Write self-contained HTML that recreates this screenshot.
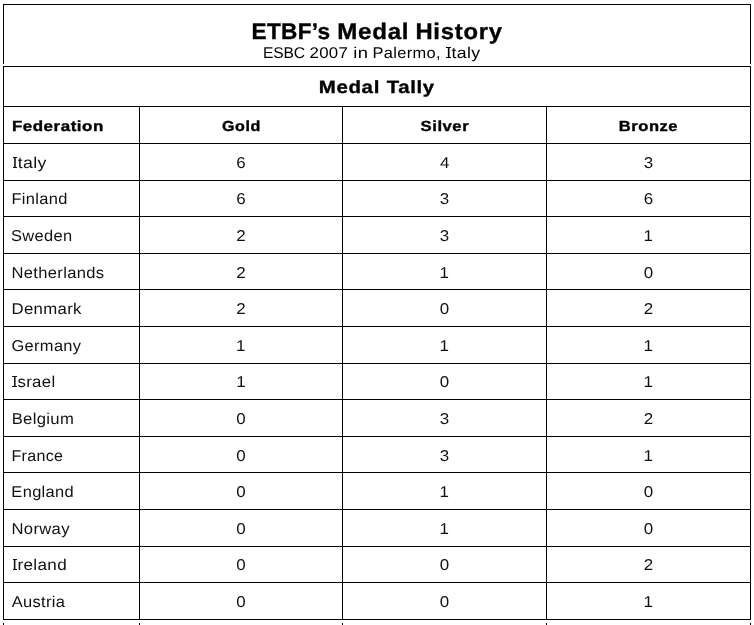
<!DOCTYPE html>
<html><head><meta charset="utf-8"><style>
html,body{margin:0;padding:0;background:#fff;width:754px;height:625px;overflow:hidden;position:relative}
.l{position:absolute;background:#000}
.t{position:absolute;font-family:"Liberation Sans",sans-serif;line-height:1;white-space:pre;transform-origin:0 0;text-rendering:geometricPrecision;will-change:transform}
.b{font-weight:bold;-webkit-text-stroke:0.35px currentColor}
</style></head><body>
<div class="l" style="left:3px;top:4px;width:748px;height:1px"></div>
<div class="l" style="left:3px;top:4px;width:1px;height:60px"></div>
<div class="l" style="left:750px;top:4px;width:1px;height:60px"></div>
<div class="l" style="left:3px;top:66px;width:748px;height:1px"></div>
<div class="l" style="left:3px;top:106px;width:748px;height:1px"></div>
<div class="l" style="left:3px;top:143px;width:748px;height:1px"></div>
<div class="l" style="left:3px;top:180px;width:748px;height:1px"></div>
<div class="l" style="left:3px;top:216px;width:748px;height:1px"></div>
<div class="l" style="left:3px;top:253px;width:748px;height:1px"></div>
<div class="l" style="left:3px;top:289px;width:748px;height:1px"></div>
<div class="l" style="left:3px;top:326px;width:748px;height:1px"></div>
<div class="l" style="left:3px;top:363px;width:748px;height:1px"></div>
<div class="l" style="left:3px;top:399px;width:748px;height:1px"></div>
<div class="l" style="left:3px;top:436px;width:748px;height:1px"></div>
<div class="l" style="left:3px;top:472px;width:748px;height:1px"></div>
<div class="l" style="left:3px;top:509px;width:748px;height:1px"></div>
<div class="l" style="left:3px;top:546px;width:748px;height:1px"></div>
<div class="l" style="left:3px;top:582px;width:748px;height:1px"></div>
<div class="l" style="left:3px;top:619px;width:748px;height:1px"></div>
<div class="l" style="left:3px;top:66px;width:1px;height:554px"></div>
<div class="l" style="left:750px;top:66px;width:1px;height:554px"></div>
<div class="l" style="left:139px;top:106px;width:1px;height:514px"></div>
<div class="l" style="left:342px;top:106px;width:1px;height:514px"></div>
<div class="l" style="left:546px;top:106px;width:1px;height:514px"></div>
<div class="l" style="left:3px;top:623px;width:1px;height:3px"></div>
<div class="l" style="left:139px;top:623px;width:1px;height:3px"></div>
<div class="l" style="left:342px;top:623px;width:1px;height:3px"></div>
<div class="l" style="left:546px;top:623px;width:1px;height:3px"></div>
<div class="l" style="left:750px;top:623px;width:1px;height:3px"></div>
<div class="l" style="left:446.20px;top:47px;width:4.6px;height:1px;background:#000"></div>
<div class="l" style="left:446.20px;top:57px;width:4.6px;height:1px;background:#000"></div>
<div class="l" style="left:12.56px;top:157px;width:4.6px;height:1px;background:#111"></div>
<div class="l" style="left:12.56px;top:167px;width:4.6px;height:1px;background:#111"></div>
<div class="l" style="left:12.47px;top:376px;width:4.6px;height:1px;background:#111"></div>
<div class="l" style="left:12.47px;top:386px;width:4.6px;height:1px;background:#111"></div>
<div class="l" style="left:12.50px;top:559px;width:4.6px;height:1px;background:#111"></div>
<div class="l" style="left:12.50px;top:569px;width:4.6px;height:1px;background:#111"></div>
<div class="t b" style="left:251px;top:20.615px;font-size:22.499px;transform:translateX(0.534px) scaleX(1.0048);letter-spacing:0.324px;color:#000">ETBF’s</div>
<div class="t b" style="left:337px;top:20.615px;font-size:22.499px;transform:translateX(0.144px) scaleX(1.0726);letter-spacing:0.712px;color:#000">Medal</div>
<div class="t b" style="left:415px;top:20.615px;font-size:22.499px;transform:translateX(0.397px) scaleX(1.0591);letter-spacing:0.712px;color:#000">History</div>
<div class="t" style="left:262px;top:45.691px;font-size:15.585px;transform:translateX(0.943px) scaleX(1.0032);letter-spacing:-0.128px;color:#000">ESBC</div>
<div class="t" style="left:309px;top:45.691px;font-size:15.585px;transform:translateX(0.442px) scaleX(1.0788);letter-spacing:0.316px;color:#000">2007</div>
<div class="t" style="left:353px;top:45.691px;font-size:15.585px;transform:translateX(0.357px) scaleX(1.1814);letter-spacing:0.316px;color:#000">in</div>
<div class="t" style="left:372px;top:45.691px;font-size:15.585px;transform:translateX(0.447px) scaleX(1.0539);letter-spacing:0.316px;color:#000">Palermo,</div>
<div class="t" style="left:446px;top:45.691px;font-size:15.585px;transform:translateX(0.199px) scaleX(1.1339);letter-spacing:0.316px;color:#000">Italy</div>
<div class="t b" style="left:318px;top:78.793px;font-size:17.697px;transform:translateX(0.730px) scaleX(1.1569);letter-spacing:0.564px;color:#000">Medal</div>
<div class="t b" style="left:386px;top:78.793px;font-size:17.697px;transform:translateX(0.715px) scaleX(1.1478);letter-spacing:0.564px;color:#000">Tally</div>
<div class="t b" style="left:11px;top:119.651px;font-size:14.578px;transform:translateX(0.901px) scaleX(1.1628);letter-spacing:0.461px;color:#000">Federation</div>
<div class="t b" style="left:222px;top:119.651px;font-size:14.578px;transform:translateX(0.103px) scaleX(1.1023);letter-spacing:0.461px;color:#000">Gold</div>
<div class="t b" style="left:420px;top:119.651px;font-size:14.578px;transform:translateX(0.534px) scaleX(1.1475);letter-spacing:0.461px;color:#000">Silver</div>
<div class="t b" style="left:618px;top:119.651px;font-size:14.578px;transform:translateX(0.856px) scaleX(1.1361);letter-spacing:0.461px;color:#000">Bronze</div>
<div class="t" style="left:12px;top:155.957px;font-size:15.700px;transform:translateX(0.435px) scaleX(1.1288);letter-spacing:0.314px;color:#111">Italy</div>
<div class="t" style="left:236px;top:155.957px;font-size:15.700px;transform:translateX(0.125px) scaleX(1.0800);letter-spacing:0.322px;color:#111">6</div>
<div class="t" style="left:440px;top:155.957px;font-size:15.700px;transform:translateX(0.049px) scaleX(1.0800);letter-spacing:0.322px;color:#111">4</div>
<div class="t" style="left:643px;top:155.957px;font-size:15.700px;transform:translateX(0.720px) scaleX(1.0800);letter-spacing:0.322px;color:#111">3</div>
<div class="t" style="left:11px;top:191.585px;font-size:15.700px;transform:translateX(0.388px) scaleX(1.0486);letter-spacing:0.314px;color:#111">Finland</div>
<div class="t" style="left:236px;top:191.585px;font-size:15.700px;transform:translateX(0.140px) scaleX(1.0800);letter-spacing:0.316px;color:#111">6</div>
<div class="t" style="left:439px;top:191.585px;font-size:15.700px;transform:translateX(0.734px) scaleX(1.0800);letter-spacing:0.316px;color:#111">3</div>
<div class="t" style="left:643px;top:191.585px;font-size:15.700px;transform:translateX(0.654px) scaleX(1.0800);letter-spacing:0.316px;color:#111">6</div>
<div class="t" style="left:10px;top:228.687px;font-size:15.700px;transform:translateX(0.977px) scaleX(1.0494);letter-spacing:0.314px;color:#111">Sweden</div>
<div class="t" style="left:236px;top:228.687px;font-size:15.700px;transform:translateX(0.312px) scaleX(1.0800);letter-spacing:0.307px;color:#111">2</div>
<div class="t" style="left:439px;top:228.687px;font-size:15.700px;transform:translateX(0.757px) scaleX(1.0800);letter-spacing:0.307px;color:#111">3</div>
<div class="t" style="left:643px;top:228.687px;font-size:15.700px;transform:translateX(0.616px) scaleX(1.0800);letter-spacing:0.307px;color:#111">1</div>
<div class="t" style="left:11px;top:265.747px;font-size:15.700px;transform:translateX(0.497px) scaleX(1.0550);letter-spacing:0.314px;color:#111">Netherlands</div>
<div class="t" style="left:236px;top:265.747px;font-size:15.700px;transform:translateX(0.289px) scaleX(1.0800);letter-spacing:0.316px;color:#111">2</div>
<div class="t" style="left:439px;top:265.747px;font-size:15.700px;transform:translateX(0.593px) scaleX(1.0800);letter-spacing:0.316px;color:#111">1</div>
<div class="t" style="left:643px;top:265.747px;font-size:15.700px;transform:translateX(0.774px) scaleX(1.0800);letter-spacing:0.316px;color:#111">0</div>
<div class="t" style="left:11px;top:301.667px;font-size:15.700px;transform:translateX(0.425px) scaleX(1.0695);letter-spacing:0.314px;color:#111">Denmark</div>
<div class="t" style="left:236px;top:301.667px;font-size:15.700px;transform:translateX(0.282px) scaleX(1.0800);letter-spacing:0.319px;color:#111">2</div>
<div class="t" style="left:439px;top:301.667px;font-size:15.700px;transform:translateX(0.766px) scaleX(1.0800);letter-spacing:0.319px;color:#111">0</div>
<div class="t" style="left:643px;top:301.667px;font-size:15.700px;transform:translateX(0.751px) scaleX(1.0800);letter-spacing:0.319px;color:#111">2</div>
<div class="t" style="left:11px;top:338.784px;font-size:15.700px;transform:translateX(0.455px) scaleX(1.0482);letter-spacing:0.314px;color:#111">Germany</div>
<div class="t" style="left:235px;top:338.784px;font-size:15.700px;transform:translateX(0.974px) scaleX(1.0800);letter-spacing:0.304px;color:#111">1</div>
<div class="t" style="left:439px;top:338.784px;font-size:15.700px;transform:translateX(0.623px) scaleX(1.0800);letter-spacing:0.304px;color:#111">1</div>
<div class="t" style="left:643px;top:338.784px;font-size:15.700px;transform:translateX(0.623px) scaleX(1.0800);letter-spacing:0.304px;color:#111">1</div>
<div class="t" style="left:12px;top:374.737px;font-size:15.700px;transform:translateX(0.512px) scaleX(1.0677);letter-spacing:0.314px;color:#111">Israel</div>
<div class="t" style="left:236px;top:374.737px;font-size:15.700px;transform:translateX(0.155px) scaleX(1.0800);letter-spacing:0.322px;color:#111">1</div>
<div class="t" style="left:439px;top:374.737px;font-size:15.700px;transform:translateX(0.759px) scaleX(1.0800);letter-spacing:0.322px;color:#111">0</div>
<div class="t" style="left:643px;top:374.737px;font-size:15.700px;transform:translateX(0.578px) scaleX(1.0800);letter-spacing:0.322px;color:#111">1</div>
<div class="t" style="left:11px;top:411.747px;font-size:15.700px;transform:translateX(0.653px) scaleX(1.0606);letter-spacing:0.314px;color:#111">Belgium</div>
<div class="t" style="left:236px;top:411.747px;font-size:15.700px;transform:translateX(0.278px) scaleX(1.0800);letter-spacing:0.316px;color:#111">0</div>
<div class="t" style="left:439px;top:411.747px;font-size:15.700px;transform:translateX(0.734px) scaleX(1.0800);letter-spacing:0.316px;color:#111">3</div>
<div class="t" style="left:643px;top:411.747px;font-size:15.700px;transform:translateX(0.758px) scaleX(1.0800);letter-spacing:0.316px;color:#111">2</div>
<div class="t" style="left:11px;top:448.505px;font-size:15.700px;transform:translateX(0.488px) scaleX(1.0232);letter-spacing:0.314px;color:#111">France</div>
<div class="t" style="left:236px;top:448.505px;font-size:15.700px;transform:translateX(0.255px) scaleX(1.0800);letter-spacing:0.325px;color:#111">0</div>
<div class="t" style="left:439px;top:448.505px;font-size:15.700px;transform:translateX(0.712px) scaleX(1.0800);letter-spacing:0.325px;color:#111">3</div>
<div class="t" style="left:643px;top:448.505px;font-size:15.700px;transform:translateX(0.571px) scaleX(1.0800);letter-spacing:0.325px;color:#111">1</div>
<div class="t" style="left:11px;top:484.747px;font-size:15.700px;transform:translateX(0.362px) scaleX(1.0485);letter-spacing:0.314px;color:#111">England</div>
<div class="t" style="left:236px;top:484.747px;font-size:15.700px;transform:translateX(0.278px) scaleX(1.0800);letter-spacing:0.316px;color:#111">0</div>
<div class="t" style="left:439px;top:484.747px;font-size:15.700px;transform:translateX(0.593px) scaleX(1.0800);letter-spacing:0.316px;color:#111">1</div>
<div class="t" style="left:643px;top:484.747px;font-size:15.700px;transform:translateX(0.774px) scaleX(1.0800);letter-spacing:0.316px;color:#111">0</div>
<div class="t" style="left:11px;top:521.667px;font-size:15.700px;transform:translateX(0.475px) scaleX(1.0593);letter-spacing:0.314px;color:#111">Norway</div>
<div class="t" style="left:236px;top:521.667px;font-size:15.700px;transform:translateX(0.255px) scaleX(1.0800);letter-spacing:0.325px;color:#111">0</div>
<div class="t" style="left:439px;top:521.667px;font-size:15.700px;transform:translateX(0.571px) scaleX(1.0800);letter-spacing:0.325px;color:#111">1</div>
<div class="t" style="left:643px;top:521.667px;font-size:15.700px;transform:translateX(0.751px) scaleX(1.0800);letter-spacing:0.325px;color:#111">0</div>
<div class="t" style="left:12px;top:557.737px;font-size:15.700px;transform:translateX(0.343px) scaleX(1.0903);letter-spacing:0.314px;color:#111">Ireland</div>
<div class="t" style="left:236px;top:557.737px;font-size:15.700px;transform:translateX(0.278px) scaleX(1.0800);letter-spacing:0.316px;color:#111">0</div>
<div class="t" style="left:439px;top:557.737px;font-size:15.700px;transform:translateX(0.774px) scaleX(1.0800);letter-spacing:0.316px;color:#111">0</div>
<div class="t" style="left:643px;top:557.737px;font-size:15.700px;transform:translateX(0.758px) scaleX(1.0800);letter-spacing:0.316px;color:#111">2</div>
<div class="t" style="left:11px;top:594.548px;font-size:15.700px;transform:translateX(0.660px) scaleX(1.0507);letter-spacing:0.314px;color:#111">Austria</div>
<div class="t" style="left:236px;top:594.548px;font-size:15.700px;transform:translateX(0.270px) scaleX(1.0800);letter-spacing:0.319px;color:#111">0</div>
<div class="t" style="left:439px;top:594.548px;font-size:15.700px;transform:translateX(0.766px) scaleX(1.0800);letter-spacing:0.319px;color:#111">0</div>
<div class="t" style="left:643px;top:594.548px;font-size:15.700px;transform:translateX(0.586px) scaleX(1.0800);letter-spacing:0.319px;color:#111">1</div>
</body></html>
